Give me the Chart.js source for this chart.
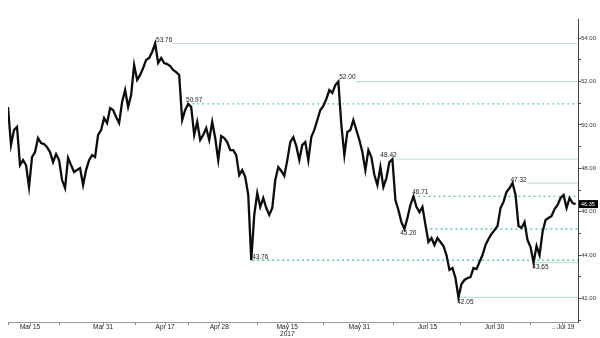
<!DOCTYPE html>
<html>
<head>
<meta charset="utf-8">
<script src="https://cdn.jsdelivr.net/npm/chart.js@4/dist/chart.umd.min.js"></script>
<style>
  html, body { margin: 0; padding: 0; background: #fff; }
  #myChart { display: block; }
</style>
</head>
<body>
<canvas id="myChart" width="600" height="338"></canvas>
<script>
// precio (barras de sesion)
const prices = [
  50.83, 49.08, 49.77, 49.91, 48.15, 48.38, 48.15, 47.14, 48.52, 48.75,
  49.40, 49.17, 49.12, 48.98, 48.75, 48.29, 48.66, 48.38, 47.46, 47.09,
  48.48, 48.15, 47.83, 47.92, 48.01, 47.23, 47.92, 48.38, 48.61, 48.52,
  49.54, 49.77, 50.32, 50.09, 50.78, 50.69, 50.37, 50.09, 51.06, 51.61,
  50.83, 51.38, 52.77, 52.08, 52.31, 52.63, 53.00, 53.09, 53.37, 53.76,
  52.86, 53.09, 52.86, 52.81, 52.72, 52.54, 52.44, 52.31, 50.23, 50.69,
  50.97, 50.83, 49.54, 50.14, 49.31, 49.54, 49.86, 49.31, 50.14, 49.40,
  48.38, 49.49, 49.40, 49.21, 48.84, 48.84, 48.61, 47.69, 47.92, 47.60,
  46.77, 43.76, 45.85, 46.86, 46.22, 46.63, 46.17, 45.85, 46.17, 47.46,
  48.06, 47.88, 47.65, 48.38, 49.21, 49.44, 49.03, 48.38, 49.08, 49.21,
  48.38, 49.44, 49.77, 50.23, 50.69, 50.88, 51.20, 51.61, 51.48, 51.84,
  52.00, 50.00, 48.61, 49.68, 49.77, 50.23, 49.77, 49.31, 48.75, 47.92,
  48.84, 48.52, 47.69, 47.23, 48.06, 47.14, 47.55, 48.29, 48.42, 46.54,
  46.08, 45.52, 45.20, 45.71, 46.31, 46.71, 46.22, 45.98, 46.22, 45.39,
  44.60, 44.78, 44.46, 44.78, 44.60, 44.42, 44.00, 43.31, 43.40, 42.94,
  42.05, 42.66, 42.85, 42.94, 42.98, 43.40, 43.35, 43.68, 44.00, 44.46,
  44.74, 44.97, 45.15, 45.34, 46.17, 46.45, 46.91, 47.09, 47.32, 46.77,
  45.34, 45.25, 45.52, 44.69, 44.37, 43.65, 44.42, 44.00, 45.06, 45.62,
  45.71, 45.80, 46.12, 46.31, 46.63, 46.77, 46.17, 46.63, 46.40, 46.35
];

// fechas del eje x (posicion en barras)
const dateLabels = ["Mar 15", "Mar 31", "Apr 17", "Apr 28", ["May 15", "2017"], "May 31", "Jun 15", "Jun 30", ".. Jul 19"];
const dateTicks = [7.33, 31.67, 52.33, 70.33, 93, 117, 139.67, 162, 184.8];
const minorTicks = [0, 17.3, 42.3, 60, 83, 105, 128.3, 150.7, 174];

const yTickValues = [41, 42, 43, 44, 45, 46, 47, 48, 49, 50, 51, 52, 53, 54];

// niveles marcados
const levelValues = [53.76, 52.00, 50.97, 48.42, 47.32, 46.71, 45.20, 43.76, 43.65, 42.05];
const levelStart = [54.7, 115.7, 59.7, 129, 173, 135, 139, 81.3, 175, 150];
const levelDotted = [false, false, true, false, false, true, true, true, false, false];

const levelLabelAt = [52, 113, 62, 126.7, 170, 137.3, 133.3, 84, 177.3, 152.3];
const levelLabelDy = [-3, -4, -4, -4, -3, -4, 4, -3, 5, 4.5];

const xMax = 189.8;

const solidColor = "#bde4d3";
const dottedColor = "#5fc999";

function crearDatasets() {
  const datasets = [{
    data: prices.map((v, i) => ({ x: i, y: v })),
    borderColor: "#0d0d0d",
    borderWidth: 2.3,
    pointRadius: 0,
    tension: 0
  }];
  levelValues.forEach((lvl, i) => {
    datasets.push({
      data: [{ x: levelStart[i], y: lvl }, { x: xMax, y: lvl }],
      borderColor: levelDotted[i] ? dottedColor : solidColor,
      borderWidth: levelDotted[i] ? 1.3 : 1.2,
      borderDash: levelDotted[i] ? [2, 3] : [],
      pointRadius: 0
    });
  });
  return datasets;
}

const labelsPlugin = {
  id: "levelLabels",
  afterDatasetsDraw(chart) {
    const ctx = chart.ctx;
    const xs = chart.scales.x;
    const ys = chart.scales.y;
    ctx.save();
    ctx.font = "6.5px 'Liberation Sans', Arial, sans-serif";
    ctx.fillStyle = "#222";
    ctx.textAlign = "center";
    ctx.textBaseline = "middle";
    levelValues.forEach((lvl, i) => {
      const x = xs.getPixelForValue(levelLabelAt[i]);
      const y = ys.getPixelForValue(lvl) + levelLabelDy[i];
      ctx.fillText(lvl.toFixed(2), x, y);
    });

    // ultimo precio
    const last = prices[prices.length - 1];
    const ly = ys.getPixelForValue(last);
    const lx = chart.chartArea.right + 1;
    ctx.fillStyle = "#000";
    ctx.fillRect(lx, ly - 4, 19, 8);
    ctx.fillStyle = "#fff";
    ctx.font = "5.5px 'Liberation Sans', Arial, sans-serif";
    ctx.textAlign = "left";
    ctx.fillText(last.toFixed(2), lx + 2, ly + 0.5);
    ctx.restore();
  }
};

new Chart(document.getElementById("myChart"), {
  type: "line",
  data: { datasets: crearDatasets() },
  plugins: [labelsPlugin],
  options: {
    responsive: false,
    animation: false,
    devicePixelRatio: 1,
    layout: { padding: { left: 8, top: 19, right: 0, bottom: 0 } },
    plugins: { legend: { display: false }, tooltip: { enabled: false } },
    scales: {
      x: {
        type: "linear",
        position: "bottom",
        min: 0,
        max: xMax,
        afterBuildTicks: (scale) => {
          scale.ticks = dateTicks.concat(minorTicks).sort((a, b) => a - b).map(v => ({ value: v }));
        },
        afterFit: (scale) => { scale.height = 16; },
        grid: { drawOnChartArea: false, drawTicks: true, tickLength: 3, color: "#888" },
        border: { display: true, color: "#999" },
        ticks: {
          autoSkip: false,
          maxRotation: 0,
          padding: -2,
          color: "#222",
          font: { size: 6.5, family: "'Liberation Sans', Arial, sans-serif" },
          callback: (value) => {
            const k = dateTicks.findIndex(t => Math.abs(t - value) < 0.01);
            return k >= 0 ? dateLabels[k] : "";
          }
        }
      },
      y: {
        position: "right",
        min: 40.91,
        max: 54.89,
        afterBuildTicks: (scale) => {
          scale.ticks = yTickValues.map(v => ({ value: v }));
        },
        afterFit: (scale) => { scale.width = 22; },
        grid: { drawOnChartArea: false, drawTicks: true, tickLength: 3, color: "#555" },
        border: { display: true, color: "#444" },
        ticks: {
          padding: 0,
          color: "#333",
          font: { size: 6, family: "'Liberation Sans', Arial, sans-serif" },
          callback: (value) => (value % 2 === 0 ? value.toFixed(2) : "")
        }
      }
    }
  }
});
</script>
</body>
</html>
